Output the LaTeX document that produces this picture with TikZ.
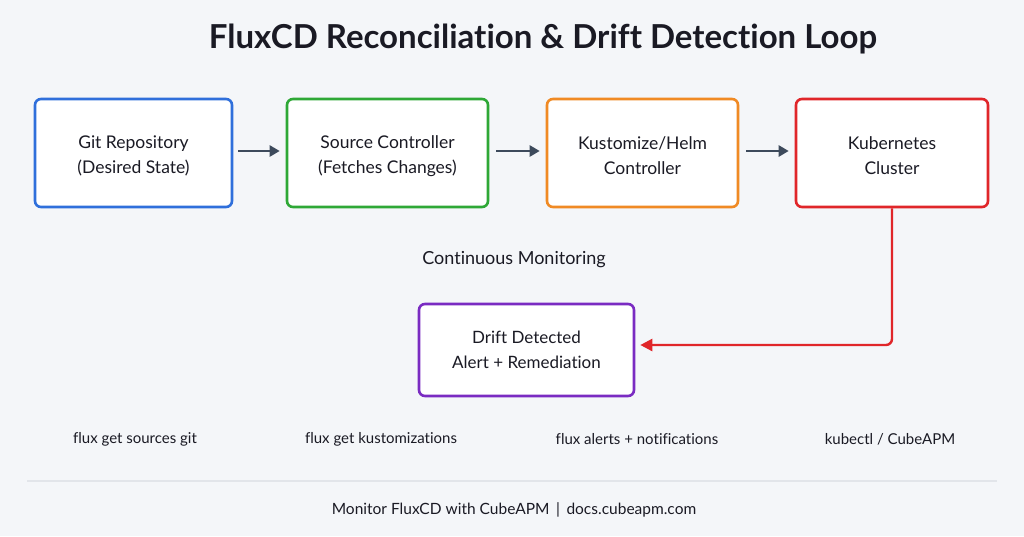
\documentclass[tikz,border=0pt]{standalone}
\usepackage{fontspec}
\setmainfont{Lato}[Ligatures=NoCommon]
\usetikzlibrary{arrows.meta,positioning}
\definecolor{bg}{HTML}{F4F6F9}
\definecolor{cblue}{HTML}{2F6FDB}
\definecolor{cgreen}{HTML}{2EA836}
\definecolor{corange}{HTML}{F08A24}
\definecolor{cred}{HTML}{E0262A}
\definecolor{cpurple}{HTML}{7A2BC2}
\definecolor{carrow}{HTML}{3D4A5C}
\definecolor{ctext}{HTML}{1A1A24}
\definecolor{cline}{HTML}{E2E5EA}
\tikzset{
  stagebox/.style={draw, line width=2.6pt, rounded corners=6pt, fill=white, inner sep=0pt},
  boxtext/.style={align=center, font=\fontsize{17.5}{25}\selectfont, text=ctext, inner sep=0pt},
  flowarrow/.style={draw=carrow, line width=2.4pt, -{Triangle[length=10pt,width=11pt]}},
  cmdlabel/.style={font=\fontsize{15}{18}\selectfont, text=ctext},
}
\begin{document}
\begin{tikzpicture}[x=1pt,y=1pt]
\useasboundingbox (0,0) rectangle (1024,-536);
\fill[bg] (0,0) rectangle (1024,-536);
\node[font=\fontsize{33}{40}\selectfont\bfseries, text=ctext] (title) at (543,-39) {FluxCD Reconciliation \& Drift Detection Loop};
\node[stagebox, draw=cblue, minimum width=197pt, minimum height=108pt] (git) at (133.5,-153) {};
\node[stagebox, draw=cgreen, minimum width=201pt, minimum height=108pt] (src) at (387.5,-153) {};
\node[stagebox, draw=corange, minimum width=191pt, minimum height=108pt] (kus) at (642.5,-153) {};
\node[stagebox, draw=cred, minimum width=192pt, minimum height=108pt] (k8s) at (892,-153) {};
\node[stagebox, draw=cpurple, minimum width=215pt, minimum height=92pt] (drift) at (526.5,-350) {};
\node[boxtext] (gitt) at ([yshift=-3pt]git.center) {Git Repository\\(Desired State)};
\node[boxtext] (srct) at ([yshift=-3pt]src.center) {Source Controller\\(Fetches Changes)};
\node[boxtext] (kust) at ([yshift=-3pt]kus.center) {Kustomize/Helm\\Controller};
\node[boxtext] (k8st) at ([yshift=-3pt]k8s.center) {Kubernetes\\Cluster};
\node[boxtext, font=\fontsize{17}{25}\selectfont] (driftt) at ([yshift=0pt]drift.center) {Drift Detected\\Alert + Remediation};
\draw[flowarrow] ([xshift=5pt,yshift=2pt]git.east) -- ([xshift=-6pt,yshift=2pt]src.west);
\draw[flowarrow] ([xshift=7pt,yshift=2pt]src.east) -- ([xshift=-6pt,yshift=2pt]kus.west);
\draw[flowarrow] ([xshift=7pt,yshift=2pt]kus.east) -- ([xshift=-6pt,yshift=2pt]k8s.west);
\coordinate (bend) at (k8s.south |- 0,-345);
\draw[draw=cred, line width=2.4pt, rounded corners=6pt, -{Triangle[length=12pt,width=12pt]}] (k8s.south) -- (bend) -- ([xshift=5pt,yshift=5pt]drift.east);
\node[font=\fontsize{18}{22}\selectfont, text=ctext] (mon) at (514,-260) {Continuous Monitoring};
\node[cmdlabel] (c1) at (135,-439) {flux get sources git};
\node[cmdlabel] (c2) at (381,-439) {flux get kustomizations};
\node[cmdlabel] (c3) at (637,-439) {flux alerts + notifications};
\node[cmdlabel] (c4) at (890,-439) {kubectl / CubeAPM};
\coordinate (l1) at (27,-481);
\coordinate (l2) at (997,-481);
\draw[cline, line width=1.5pt] (l1) -- (l2);
\node[cmdlabel, font=\fontsize{15.5}{18}\selectfont] (foot) at (514,-510) {Monitor FluxCD with CubeAPM \,|\, docs.cubeapm.com};
\end{tikzpicture}
\end{document}
